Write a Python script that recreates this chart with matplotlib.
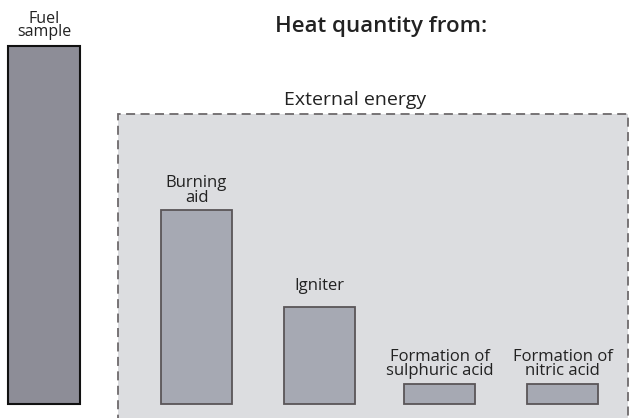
import matplotlib
matplotlib.use("Agg")
import matplotlib.pyplot as plt
from matplotlib.patches import Rectangle

plt.rcParams['font.family'] = ['Open Sans', 'DejaVu Sans']

# Data (relative heat quantity, fuel sample = 100)
fuel_label = "Fuel\nsample"
fuel_value = 100
ext_labels = ["Burning\naid", "Igniter", "Formation of\nsulphuric acid", "Formation of\nnitric acid"]
ext_values = [54.2, 27.1, 5.6, 5.6]

# label gap above bars (points)
ext_pads = [6, 12, 6.5, 6.5]

fig = plt.figure(figsize=(6.29, 4.18), dpi=100)
ax = fig.add_axes([0, 0, 1, 1])
ax.set_xlim(0, 629)
ax.set_ylim(-3.91, 112.85)
ax.axis('off')

# External energy box
box = Rectangle((118, -10), 509.5, 91, facecolor='#dcdde0', edgecolor='#6e6a6c',
                linestyle=(0, (5, 3)), linewidth=1.3, zorder=1)
ax.add_patch(box)

# Fuel sample bar
ax.bar([44], [fuel_value], width=72, color='#8d8d97', edgecolor='#111111',
       linewidth=1.5, zorder=2)
ax.annotate(fuel_label, (44, fuel_value), xytext=(0, 7), textcoords='offset points',
            ha='center', va='baseline', fontsize=11.5, linespacing=0.75, color='#222222')

# External energy bars
xs = [196.5, 319, 439.5, 562.5]
ax.bar(xs, ext_values, width=71, color='#a6a9b3', edgecolor='#5a5558',
       linewidth=1.3, zorder=2)
for x, v, lab, pad in zip(xs, ext_values, ext_labels, ext_pads):
    ax.annotate(lab, (x, v), xytext=(0, pad), textcoords='offset points',
                ha='center', va='baseline', fontsize=12, linespacing=0.85,
                color='#222222', zorder=3)

ax.text(381, 104.0, "Heat quantity from:", ha='center', va='baseline', fontsize=16,
        fontweight='semibold', color='#222222')
ax.text(355, 83.5, "External energy", ha='center', va='baseline', fontsize=14,
        color='#222222')

fig.savefig("out.png", dpi=100)
